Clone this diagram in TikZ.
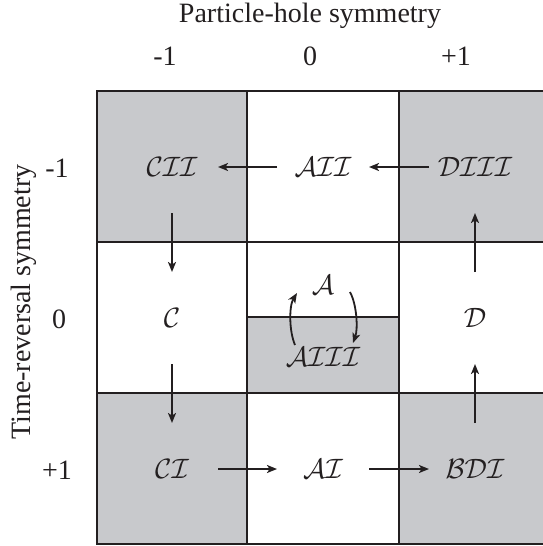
\RequirePackage{fix-cm}
\documentclass[tikz,border=0pt]{standalone}
\usepackage{fontspec}
\setmainfont{Liberation Serif}
\usetikzlibrary{arrows.meta,calc}
\definecolor{cellgray}{RGB}{200,201,204}
\definecolor{ink}{RGB}{35,31,32}
\begin{document}
\begin{tikzpicture}[x=1pt,y=-1pt,
  lab/.style={inner sep=0pt, font=\fontsize{28}{32}\selectfont, text=ink},
  cls/.style={inner sep=0pt, font=\fontsize{28}{32}\selectfont, text=ink},
  tipstyle/.style={-{Stealth[length=10pt,width=8pt,inset=2.5pt]}},
  link/.style={draw=ink, line width=1.8pt, tipstyle, shorten <=46pt, shorten >=46pt},
  curv/.style={draw=ink, line width=1.8pt, tipstyle},
  gridline/.style={draw=ink, line width=2pt}]
\clip (0,0) rectangle (543,546);
\fill[white] (0,0) rectangle (543,546);
% shaded cells
\fill[cellgray] (97,91) rectangle (247,242);
\fill[cellgray] (399,91) rectangle (551,242);
\fill[cellgray] (247,317) rectangle (399,393);
\fill[cellgray] (97,393) rectangle (247,544);
\fill[cellgray] (399,393) rectangle (551,544);
% grid
\draw[gridline] (97,91) rectangle (551,544);
\draw[gridline] (247,91) -- (247,544);
\draw[gridline] (399,91) -- (399,544);
\draw[gridline] (97,242) -- (551,242);
\draw[gridline] (97,393) -- (551,393);
\draw[gridline] (247,317) -- (399,317);
% axis labels
\node[lab, anchor=base] (ph) at (310,23) {Particle-hole symmetry};
\node[lab, anchor=base] (phm) at (165,65) {-1};
\node[lab, anchor=base] (phz) at (310,65) {0};
\node[lab, anchor=base] (php) at (456,65) {+1};
\node[lab, anchor=base, rotate=90] (tr) at (30,302) {Time-reversal symmetry};
\node[lab, anchor=base] (trm) at (57,177) {-1};
\node[lab, anchor=base] (trz) at (59,328) {0};
\node[lab, anchor=base] (trp) at (57,479) {+1};
% classes
\node[cls] (CII) at (172,167) {$\mathcal{CII}$};
\node[cls] (AII) at (323,167) {$\mathcal{AII}$};
\node[cls] (DIII) at (475,167) {$\mathcal{DIII}$};
\node[cls] (C) at (172,318) {$\mathcal{C}$};
\node[cls] (A) at (323,285) {$\mathcal{A}$};
\node[cls] (AIII) at (323,357) {$\mathcal{AIII}$};
\node[cls] (D) at (475,318) {$\mathcal{D}$};
\node[cls] (CI) at (172,469) {$\mathcal{CI}$};
\node[cls] (AI) at (323,469) {$\mathcal{AI}$};
\node[cls] (BDI) at (475,469) {$\mathcal{BDI}$};
% arrows
\draw[link] (DIII.center) -- (AII.center);
\draw[link] (AII.center) -- (CII.center);
\draw[link] (CII.center) -- (C.center);
\draw[link] (C.center) -- (CI.center);
\draw[link] (CI.center) -- (AI.center);
\draw[link] (AI.center) -- (BDI.center);
\draw[link] (BDI.center) -- (D.center);
\draw[link] (D.center) -- (DIII.center);
\draw[curv] ($(AIII)+(-28,-12)$) .. controls ($(AIII)+(-34,-26)$) and ($(A)+(-34,21)$) .. ($(A)+(-26,8)$);
\draw[curv] ($(A)+(27,7)$) .. controls ($(A)+(34,20)$) and ($(AIII)+(35,-28)$) .. ($(AIII)+(30,-14)$);
\end{tikzpicture}
\end{document}
